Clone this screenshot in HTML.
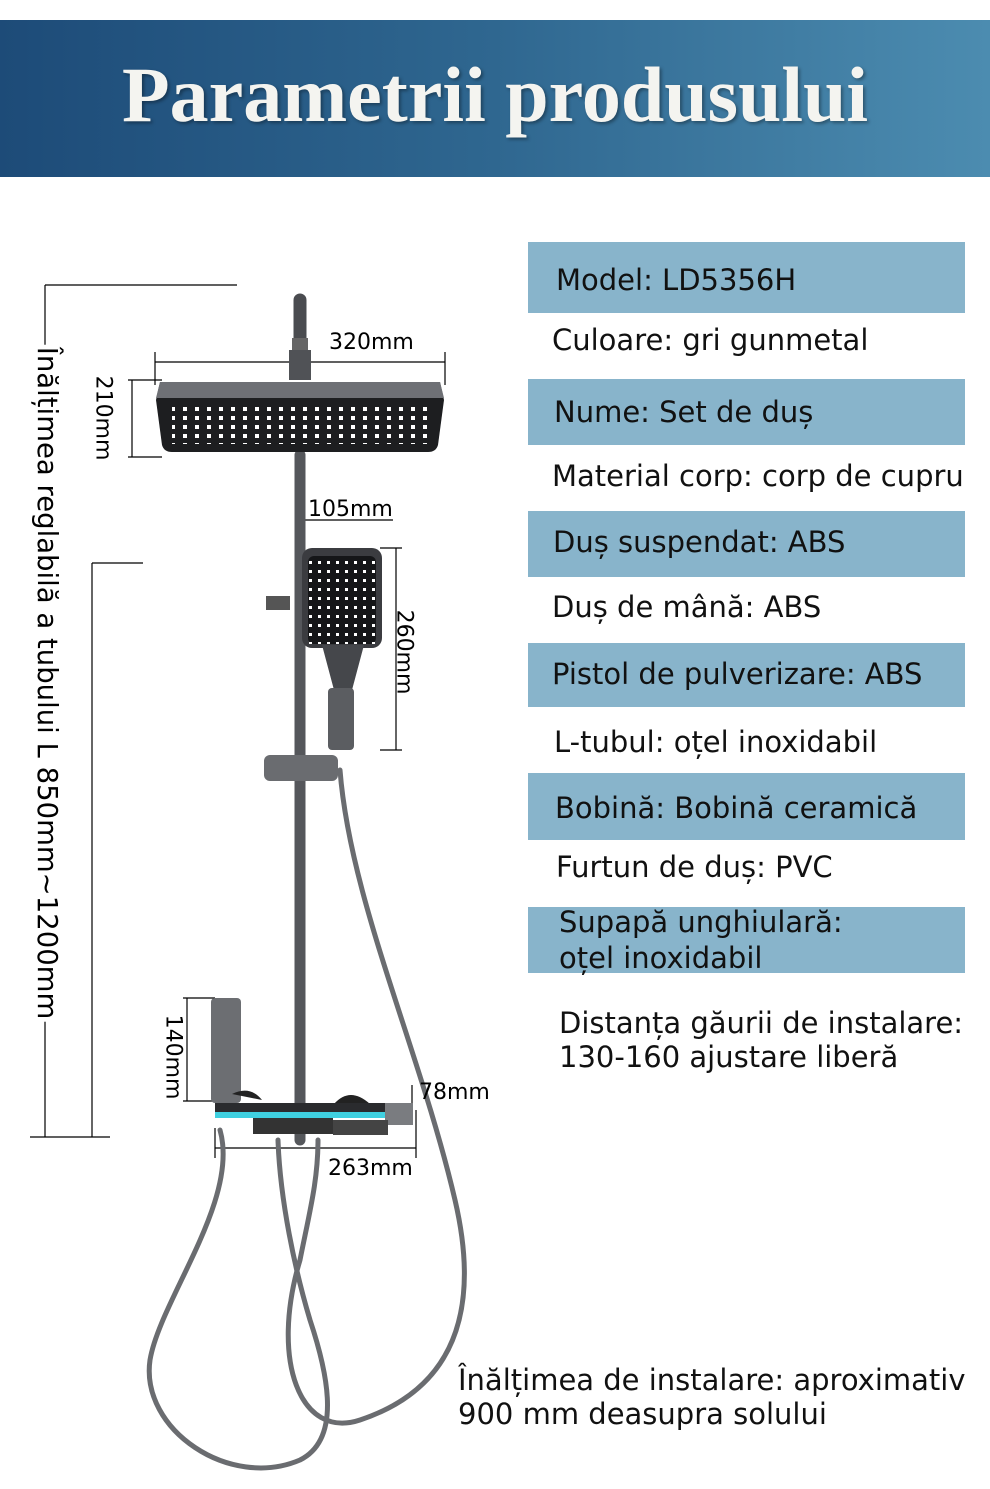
<!DOCTYPE html>
<html><head><meta charset="utf-8"><style>
body{margin:0;width:990px;height:1489px;background:#fff;overflow:hidden;position:relative;font-family:"DejaVu Sans","Liberation Sans",sans-serif}
.hdr{position:absolute;left:0;top:20px;width:990px;height:157px;background:linear-gradient(90deg,#1d4b78,#2f6790 50%,#4c8cb0)}
.hdr h1{margin:0;text-align:center;color:#f4f4f0;font-family:"Liberation Serif",serif;font-weight:bold;font-size:78px;line-height:150px;text-shadow:2px 2px 3px rgba(0,0,0,.35)}
.box{position:absolute;left:528px;width:437px;background:#88b4cb}
.t{position:absolute;font-size:29px;color:#111;white-space:nowrap;line-height:34px}
.d{position:absolute;font-size:22px;color:#000;white-space:nowrap}
</style></head><body>
<div class="hdr"><h1>Parametrii produsului</h1></div>
<div class="box" style="top:242px;height:71px"></div>
<div class="box" style="top:379px;height:66px"></div>
<div class="box" style="top:511px;height:66px"></div>
<div class="box" style="top:643px;height:64px"></div>
<div class="box" style="top:773px;height:67px"></div>
<div class="box" style="top:907px;height:66px"></div>
<div class="t" style="left:556px;top:263px">Model: LD5356H</div>
<div class="t" style="left:552px;top:323px">Culoare: gri gunmetal</div>
<div class="t" style="left:554px;top:395px">Nume: Set de duș</div>
<div class="t" style="left:552px;top:459px">Material corp: corp de cupru</div>
<div class="t" style="left:553px;top:525px">Duș suspendat: ABS</div>
<div class="t" style="left:552px;top:590px">Duș de mână: ABS</div>
<div class="t" style="left:552px;top:657px">Pistol de pulverizare: ABS</div>
<div class="t" style="left:554px;top:725px">L-tubul: oțel inoxidabil</div>
<div class="t" style="left:555px;top:791px">Bobină: Bobină ceramică</div>
<div class="t" style="left:556px;top:850px">Furtun de duș: PVC</div>
<div class="t" style="left:559px;top:905px">Supapă unghiulară:</div>
<div class="t" style="left:559px;top:941px">oțel inoxidabil</div>
<div class="t" style="left:559px;top:1006px">Distanța găurii de instalare:</div>
<div class="t" style="left:559px;top:1040px">130-160 ajustare liberă</div>
<div class="t" style="left:458px;top:1363px">Înălțimea de instalare: aproximativ</div>
<div class="t" style="left:458px;top:1397px">900 mm deasupra solului</div>

<svg style="position:absolute;left:0;top:0" width="990" height="1489">
<g stroke="#000" stroke-width="1.2" fill="none">
<line x1="45" y1="285" x2="237" y2="285"/><line x1="45" y1="285" x2="45" y2="1137"/><line x1="30" y1="1137" x2="110" y2="1137"/>
<line x1="92" y1="563" x2="143" y2="563"/><line x1="92" y1="563" x2="92" y2="1137"/>
<line x1="155" y1="362" x2="445" y2="362"/><line x1="155" y1="352" x2="155" y2="385"/><line x1="445" y1="352" x2="445" y2="385"/>
<line x1="128" y1="380" x2="162" y2="380"/><line x1="128" y1="457" x2="162" y2="457"/><line x1="132" y1="380" x2="132" y2="457"/>
<line x1="300" y1="520" x2="393" y2="520"/><line x1="300" y1="510" x2="300" y2="545"/>
<line x1="380" y1="548" x2="402" y2="548"/><line x1="380" y1="750" x2="402" y2="750"/><line x1="396" y1="548" x2="396" y2="750"/>
<line x1="183" y1="998" x2="215" y2="998"/><line x1="183" y1="1101" x2="215" y2="1101"/><line x1="187" y1="998" x2="187" y2="1101"/>
<line x1="412" y1="1085" x2="412" y2="1110"/>
<line x1="215" y1="1148" x2="416" y2="1148"/><line x1="215" y1="1128" x2="215" y2="1158"/><line x1="416" y1="1110" x2="416" y2="1158"/>
</g>
<g fill="none" stroke-linecap="round">
<path d="M300 360 V300" stroke="#4a4c50" stroke-width="13"/>
<path d="M300 455 V1140" stroke="#55575b" stroke-width="11"/>
<path d="M340 770 C350 900 420 1050 455 1200 C490 1350 420 1400 360 1420 C300 1440 270 1360 300 1260 C310 1210 318 1180 318 1140" stroke="#6a6c70" stroke-width="5"/>
<path d="M220 1130 C240 1200 160 1300 150 1360 C140 1430 230 1490 300 1460 C340 1440 330 1380 310 1320 C295 1270 280 1200 278 1140" stroke="#6a6c70" stroke-width="5"/>
</g>
<rect x="292" y="338" width="16" height="12" fill="#666"/>
<rect x="289" y="350" width="22" height="30" fill="#505256"/>
<path d="M160 382 H440 L444 400 L438 445 Q436 452 428 452 H172 Q164 452 162 445 L156 400 Z" fill="#1d1e20"/>
<path d="M160 382 H440 L444 398 H156 Z" fill="#6e7075"/>
<rect x="172" y="404" width="258" height="40" fill="url(#dots)"/>
<defs><pattern id="dots" width="12" height="9" patternUnits="userSpaceOnUse"><rect x="3" y="2" width="4" height="4" fill="#fff"/></pattern>
<pattern id="dots2" width="9" height="9" patternUnits="userSpaceOnUse"><rect x="3" y="3" width="3" height="3" fill="#fff"/></pattern></defs>
<rect x="302" y="548" width="80" height="100" rx="10" fill="#3b3c40"/>
<rect x="308" y="556" width="68" height="88" rx="6" fill="#151618"/>
<rect x="308" y="556" width="68" height="88" fill="url(#dots2)"/>
<path d="M322 645 H364 L352 690 H334 Z" fill="#45474b"/>
<rect x="328" y="688" width="26" height="62" rx="4" fill="#5b5d61"/>
<rect x="266" y="596" width="24" height="14" fill="#555"/>
<rect x="264" y="755" width="74" height="26" rx="6" fill="#6a6c70"/>
<rect x="211" y="998" width="30" height="105" rx="4" fill="#6c6e72"/>
<path d="M232 1094 Q250 1085 262 1100 Z M334 1104 Q350 1086 370 1104 Z" fill="#222"/>
<rect x="215" y="1103" width="197" height="14" fill="#2a2b2e"/>
<rect x="215" y="1112" width="172" height="6" fill="#3fd0e0"/>
<rect x="385" y="1103" width="28" height="22" fill="#7a7c80"/>
<rect x="253" y="1118" width="80" height="16" fill="#333"/>
<rect x="333" y="1120" width="55" height="15" fill="#444"/>
</svg>
<div class="d" style="left:329px;top:330px">320mm</div>
<div class="d" style="left:308px;top:497px">105mm</div>
<div class="d" style="left:419px;top:1080px">78mm</div>
<div class="d" style="left:328px;top:1156px">263mm</div>
<div class="d" style="position:absolute;left:103px;top:418px;transform:translate(-50%,-50%) rotate(90deg)">210mm</div>
<div class="d" style="position:absolute;left:404px;top:652px;transform:translate(-50%,-50%) rotate(90deg)">260mm</div>
<div class="d" style="position:absolute;left:173px;top:1057px;transform:translate(-50%,-50%) rotate(90deg)">140mm</div>
<div class="d" style="position:absolute;left:47px;top:683px;font-size:27.5px;background:#fff;padding:0 2px;transform:translate(-50%,-50%) rotate(90deg)">Înălțimea reglabilă a tubului L 850mm~1200mm</div>
</body></html>
